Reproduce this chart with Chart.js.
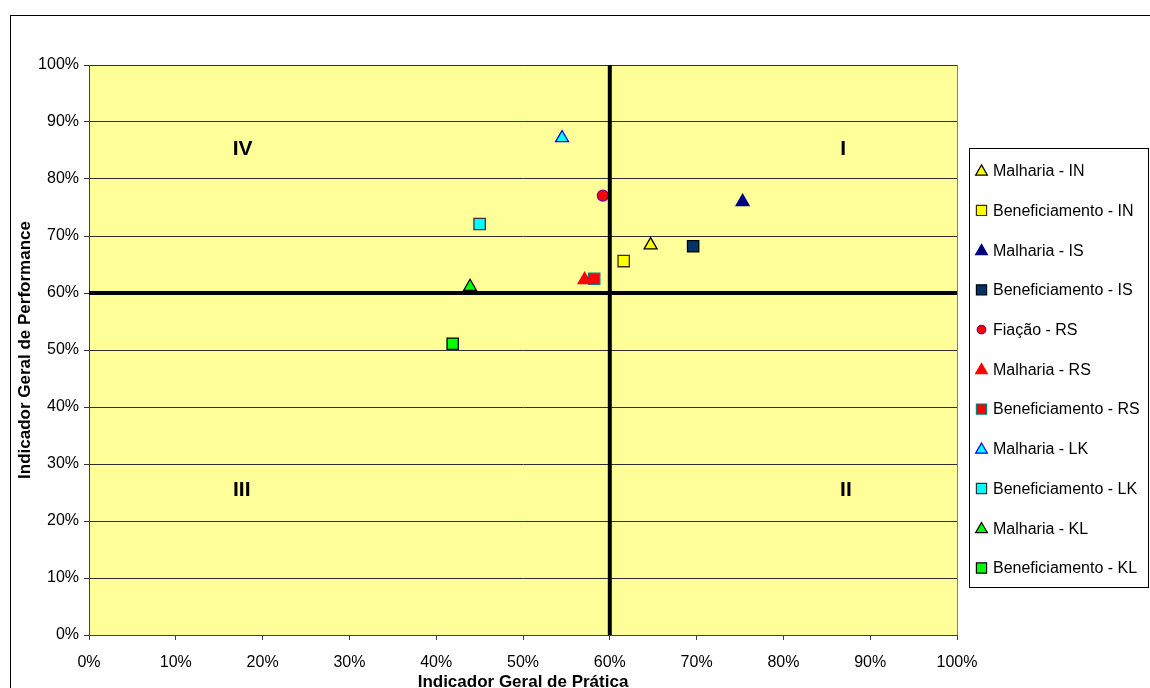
<!DOCTYPE html>
<html>
<head>
<meta charset="utf-8">
<script src="https://cdn.jsdelivr.net/npm/chart.js@4"></script>
<style>
  body { margin: 0; background: #fff; }
  canvas { display: block; }
</style>
</head>
<body>
<canvas id="myChart" width="1150" height="688"></canvas>
<script>
// series names (legend order)
const seriesNames = [
	'Malharia - IN', 'Beneficiamento - IN', 'Malharia - IS', 'Beneficiamento - IS',
	'Fiação - RS', 'Malharia - RS', 'Beneficiamento - RS', 'Malharia - LK',
	'Beneficiamento - LK', 'Malharia - KL', 'Beneficiamento - KL'
];

// Indicador Geral de Prática (x) and Indicador Geral de Performance (y)
const pratica = [0.647, 0.616, 0.753, 0.696, 0.592, 0.571, 0.582, 0.545, 0.450, 0.439, 0.419];
const performance = [0.684, 0.656, 0.760, 0.682, 0.771, 0.623, 0.625, 0.872, 0.721, 0.611, 0.511];

// quadrant labels
const quadrantLabels = ['I', 'II', 'III', 'IV'];
const quadrantX = [0.869, 0.872, 0.176, 0.177];
const quadrantY = [0.853, 0.254, 0.254, 0.853];

const tickValues = [0, 0.1, 0.2, 0.3, 0.4, 0.5, 0.6, 0.7, 0.8, 0.9, 1];

// marker looks
const shapes = ['triangle', 'rect', 'triangle', 'rect', 'circle', 'triangle', 'rect', 'triangle', 'rect', 'triangle', 'rect'];
const fills = ['#FFFF00', '#FFFF00', '#000080', '#003366', '#FF0000', '#FF0000', '#FF0000', '#00FFFF', '#00FFFF', '#00FF00', '#00FF00'];
const borders = ['#000000', '#333300', '#000080', '#000000', '#800080', '#FF0000', '#008080', '#0000FF', '#333333', '#000000', '#000000'];

const FONT = "'Liberation Sans', Arial, sans-serif";

let datasets = seriesNames.map((name, i) => {
	let r = 7.5;
	if (shapes[i] == 'circle') r = 5.5;
	if (shapes[i] == 'rect') r = 8;
	return {
		label: name,
		data: [{x: pratica[i], y: performance[i]}],
		pointStyle: shapes[i],
		backgroundColor: fills[i],
		borderColor: borders[i],
		pointBorderWidth: 1.3,
		pointRadius: r,
		pointHoverRadius: r
	};
});

// background, quadrant lines, numerals, frame and legend
const decorPlugin = {
	id: 'decor',
	beforeDraw(chart) {
		const ctx = chart.ctx;
		const a = chart.chartArea;
		ctx.save();
		ctx.fillStyle = '#fff';
		ctx.fillRect(0, 0, chart.width, chart.height);
		ctx.fillStyle = '#FFFF99';
		ctx.fillRect(a.left, a.top, a.right - a.left, a.bottom - a.top);
		ctx.strokeStyle = '#808080';
		ctx.lineWidth = 1;
		ctx.strokeRect(a.left + 0.5, a.top + 0.5, a.right - a.left, a.bottom - a.top);
		ctx.strokeStyle = '#000';
		ctx.strokeRect(10.5, 15.5, 1300, 800);
		ctx.restore();
	},
	afterDatasetsDraw(chart) {
		const ctx = chart.ctx;
		const a = chart.chartArea;
		const xs = chart.scales.x;
		const ys = chart.scales.y;
		ctx.save();
		// quadrant lines at 60%
		ctx.strokeStyle = '#000';
		ctx.lineWidth = 4;
		const vx = xs.getPixelForValue(0.6);
		const hy = ys.getPixelForValue(0.6);
		ctx.beginPath();
		ctx.moveTo(vx, a.top);
		ctx.lineTo(vx, a.bottom);
		ctx.moveTo(a.left, hy);
		ctx.lineTo(a.right, hy);
		ctx.stroke();

		ctx.fillStyle = '#000';
		ctx.font = 'bold 21px ' + FONT;
		ctx.textAlign = 'center';
		ctx.textBaseline = 'middle';
		for (let i = 0; i < quadrantLabels.length; i++) {
			ctx.fillText(quadrantLabels[i], xs.getPixelForValue(quadrantX[i]), ys.getPixelForValue(quadrantY[i]));
		}

		// legend
		ctx.strokeStyle = '#000';
		ctx.lineWidth = 1;
		ctx.strokeRect(969.5, 148.5, 179, 439);
		ctx.font = '16px ' + FONT;
		ctx.textAlign = 'left';
		chart.data.datasets.forEach((ds, i) => {
			const y = 170.7 + i * 39.73;
			ctx.fillStyle = ds.backgroundColor;
			ctx.strokeStyle = ds.borderColor;
			ctx.lineWidth = 1.2;
			let r = 6.8;
			if (ds.pointStyle == 'circle') r = 4.3;
			if (ds.pointStyle == 'rect') r = 7.2;
			Chart.helpers.drawPoint(ctx, {pointStyle: ds.pointStyle, radius: r, borderWidth: 1.2}, 981.5, y + (ds.pointStyle == 'triangle' ? 1 : 0));
			ctx.fillStyle = '#000';
			ctx.fillText(ds.label, 993, y + 1);
		});
		ctx.restore();
	}
};

const myChart = document.getElementById('myChart');

let scatterChart = new Chart(myChart, {
	type: 'scatter',
	data: { datasets: datasets },
	plugins: [decorPlugin],
	options: {
		responsive: false,
		animation: false,
		events: [],
		layout: { padding: { left: 12, top: 65, right: 193, bottom: 0 } },
		plugins: {
			legend: { display: false },
			tooltip: { enabled: false }
		},
		scales: {
			x: {
				type: 'linear',
				min: 0,
				max: 1,
				afterBuildTicks: s => { s.ticks = tickValues.map(v => ({value: v})); },
				afterFit: s => { s.height = 53; },
				ticks: {
					color: '#000',
					padding: 13,
					maxRotation: 0,
					font: { family: FONT, size: 16 },
					callback: v => Math.round(v * 100) + '%'
				},
				grid: { drawOnChartArea: false, color: '#404040', tickLength: 5 },
				border: { color: '#404040' },
				title: {
					display: true,
					text: 'Indicador Geral de Prática',
					color: '#000',
					padding: { top: 0, bottom: 0 },
					font: { family: FONT, size: 17, weight: 'bold', lineHeight: 0.7 }
				}
			},
			y: {
				type: 'linear',
				min: 0,
				max: 1,
				afterBuildTicks: s => { s.ticks = tickValues.map(v => ({value: v})); },
				afterFit: s => { s.width = 77; },
				ticks: {
					color: '#000',
					padding: 5,
					font: { family: FONT, size: 16 },
					callback: v => Math.round(v * 100) + '%'
				},
				grid: { color: '#303030', tickLength: 5 },
				border: { color: '#404040' },
				title: {
					display: true,
					text: 'Indicador Geral de Performance',
					color: '#000',
					padding: { top: 5, bottom: 0 },
					font: { family: FONT, size: 17, weight: 'bold', lineHeight: 1.0 }
				}
			}
		}
	}
});
</script>
</body>
</html>
